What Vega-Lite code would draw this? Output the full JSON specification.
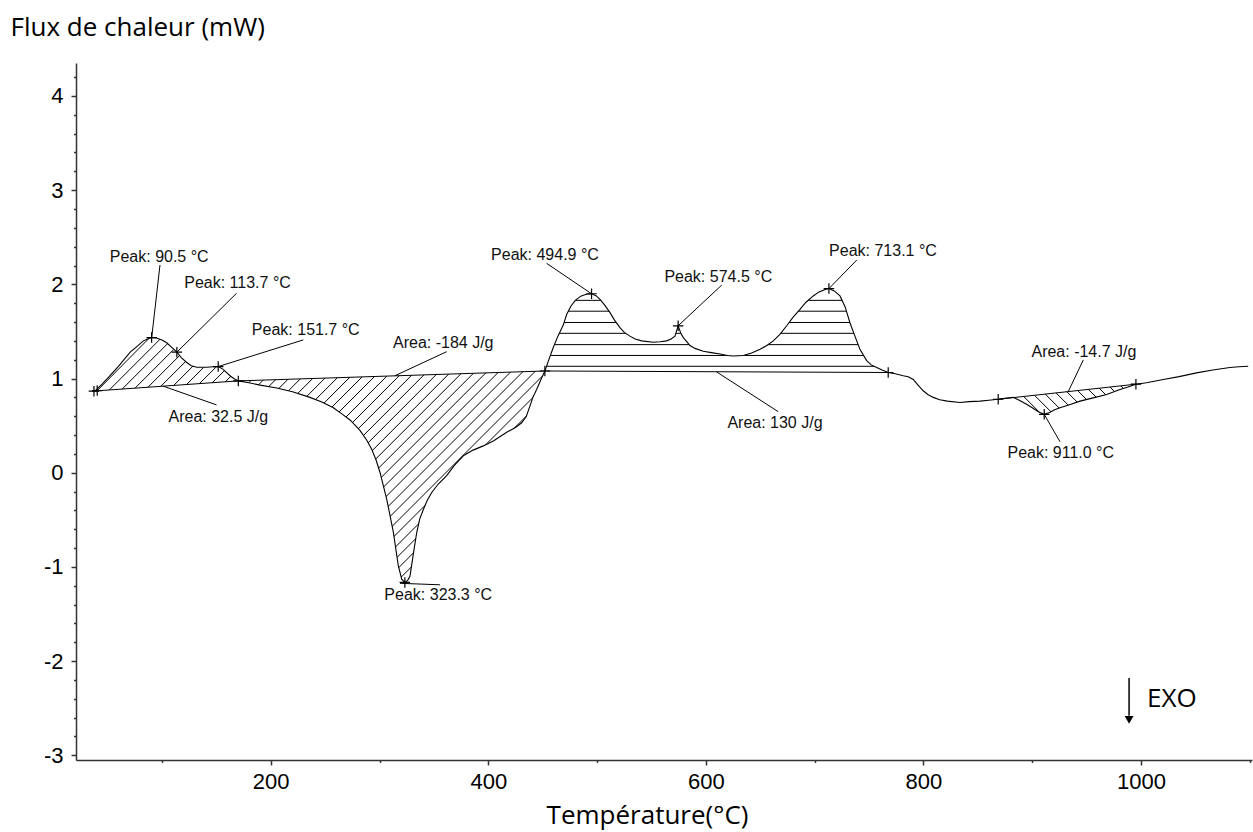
{
"$schema": "https://vega.github.io/schema/vega-lite/v6.json",
"width": 1176, "height": 697,
"autosize": "none",
"padding": {"left": 76, "top": 63, "right": 1, "bottom": 72},
"background": "white",
"config": {"view": {"stroke": null}},
"datasets": {
"curve": [
{"T":37,"v":0.865},{"T":38.5,"v":0.868},{"T":45,"v":0.94},{"T":52.3,"v":1.03},{"T":60,"v":1.13},{"T":70.8,"v":1.28},{"T":78,"v":1.35},{"T":82.9,"v":1.4},{"T":88,"v":1.425},{"T":90.5,"v":1.435},{"T":95,"v":1.43},{"T":100,"v":1.41},{"T":104.4,"v":1.38},{"T":109,"v":1.33},{"T":113.7,"v":1.28},{"T":118,"v":1.22},{"T":122.8,"v":1.17},{"T":127,"v":1.135},{"T":132,"v":1.12},{"T":141,"v":1.12},{"T":147,"v":1.125},{"T":151.7,"v":1.127},{"T":156,"v":1.1},{"T":162.6,"v":1.03},{"T":166,"v":1.0},{"T":170.2,"v":0.975},
{"T":180,"v":0.955},{"T":190.3,"v":0.93},{"T":205.5,"v":0.9},{"T":220,"v":0.86},{"T":236,"v":0.8},{"T":247,"v":0.75},{"T":257.6,"v":0.69},{"T":266,"v":0.62},{"T":272.9,"v":0.56},{"T":282,"v":0.45},{"T":288,"v":0.35},{"T":292.8,"v":0.25},{"T":297,"v":0.13},{"T":300.5,"v":0.0},{"T":306.6,"v":-0.28},{"T":312.7,"v":-0.63},{"T":317.3,"v":-0.99},{"T":320.4,"v":-1.13},{"T":323.3,"v":-1.165},{"T":326,"v":-1.14},{"T":328,"v":-1.1},{"T":331,"v":-0.87},{"T":334.2,"v":-0.635},{"T":337,"v":-0.49},{"T":340.3,"v":-0.39},{"T":344,"v":-0.29},{"T":348,"v":-0.21},{"T":354,"v":-0.12},{"T":361.7,"v":-0.03},{"T":369,"v":0.08},{"T":377,"v":0.18},{"T":386,"v":0.24},{"T":395.4,"v":0.285},{"T":405,"v":0.34},{"T":416.9,"v":0.43},{"T":425,"v":0.48},{"T":430.7,"v":0.53},{"T":435,"v":0.6},{"T":438.3,"v":0.71},{"T":441,"v":0.8},{"T":444.5,"v":0.886},{"T":448,"v":0.98},{"T":452,"v":1.08},
{"T":455,"v":1.18},{"T":459.7,"v":1.33},{"T":464,"v":1.45},{"T":469,"v":1.57},{"T":472,"v":1.68},{"T":476,"v":1.77},{"T":480,"v":1.83},{"T":485,"v":1.875},{"T":490,"v":1.895},{"T":494.9,"v":1.9},{"T":499,"v":1.88},{"T":502.7,"v":1.84},{"T":507,"v":1.78},{"T":511.9,"v":1.7},{"T":516,"v":1.62},{"T":521,"v":1.54},{"T":525,"v":1.49},{"T":530.2,"v":1.45},{"T":535,"v":1.42},{"T":541,"v":1.4},{"T":551.6,"v":1.385},{"T":558,"v":1.39},{"T":563.9,"v":1.4},{"T":568,"v":1.42},{"T":571.6,"v":1.45},{"T":574.5,"v":1.56},{"T":577,"v":1.48},{"T":579.3,"v":1.435},{"T":585.4,"v":1.35},{"T":590,"v":1.32},{"T":597.6,"v":1.29},{"T":605,"v":1.275},{"T":613,"v":1.26},{"T":620,"v":1.245},{"T":625,"v":1.24},{"T":634.4,"v":1.245},{"T":642,"v":1.27},{"T":649.8,"v":1.31},{"T":656,"v":1.35},{"T":662,"v":1.4},{"T":668,"v":1.47},{"T":674.3,"v":1.56},{"T":680,"v":1.65},{"T":686.5,"v":1.735},{"T":692,"v":1.81},{"T":698.7,"v":1.877},{"T":704,"v":1.92},{"T":709.6,"v":1.945},{"T":713.1,"v":1.955},{"T":718,"v":1.93},{"T":723.3,"v":1.877},{"T":728,"v":1.76},{"T":732.5,"v":1.59},{"T":737,"v":1.45},{"T":741.6,"v":1.31},{"T":747.8,"v":1.19},{"T":752,"v":1.145},{"T":757,"v":1.117},{"T":762,"v":1.09},{"T":767.6,"v":1.064},
{"T":774,"v":1.05},{"T":781.4,"v":1.03},{"T":786,"v":1.02},{"T":790.6,"v":0.99},{"T":795,"v":0.93},{"T":799.8,"v":0.87},{"T":804,"v":0.83},{"T":809,"v":0.8},{"T":815,"v":0.775},{"T":822,"v":0.76},{"T":833.6,"v":0.745},{"T":842,"v":0.755},{"T":852,"v":0.76},{"T":860,"v":0.77},{"T":868.7,"v":0.78},{"T":875,"v":0.79},{"T":882.5,"v":0.8},{"T":888,"v":0.77},{"T":894.8,"v":0.727},{"T":900,"v":0.69},{"T":906,"v":0.645},{"T":911,"v":0.62},{"T":916,"v":0.64},{"T":920,"v":0.665},{"T":925.5,"v":0.69},{"T":935,"v":0.725},{"T":943.9,"v":0.76},{"T":956,"v":0.795},{"T":968.4,"v":0.83},{"T":980,"v":0.88},{"T":988,"v":0.91},{"T":995.3,"v":0.94},{"T":1005,"v":0.955},{"T":1020.4,"v":0.99},{"T":1035,"v":1.02},{"T":1051,"v":1.06},{"T":1066,"v":1.09},{"T":1081.7,"v":1.117},{"T":1090,"v":1.125},{"T":1098.5,"v":1.13}
],
"base": [
{"r":"A","T":38.5,"v":0.868},{"r":"A","T":170.2,"v":0.975},
{"r":"B","T":170.2,"v":0.975},{"r":"B","T":452,"v":1.08},
{"r":"C","T":452,"v":1.08},{"r":"C","T":767.6,"v":1.064},
{"r":"D","T":868.7,"v":0.78},{"r":"D","T":995.3,"v":0.94}
],
"hatch": [
{"T":39.5,"v":0.86,"T2":90.1,"v2":1.45},{"T":50,"v":0.86,"T2":101.1,"v2":1.45},{"T":61,"v":0.86,"T2":112.1,"v2":1.45},{"T":72,"v":0.86,"T2":123.1,"v2":1.45},{"T":83,"v":0.86,"T2":134.1,"v2":1.45},{"T":94,"v":0.86,"T2":145.1,"v2":1.45},{"T":105,"v":0.86,"T2":156.1,"v2":1.45},{"T":116,"v":0.86,"T2":167.1,"v2":1.45},{"T":127,"v":0.86,"T2":169.4,"v2":1.348},{"T":138,"v":0.86,"T2":169.4,"v2":1.221},{"T":149,"v":0.86,"T2":169.4,"v2":1.093},{"T":160,"v":0.86,"T2":169.4,"v2":0.966},
{"T":171,"v":0.98,"T2":180.3,"v2":1.09},{"T":171,"v":0.853,"T2":191.3,"v2":1.09},{"T":171,"v":0.726,"T2":202.3,"v2":1.09},{"T":171,"v":0.599,"T2":213.3,"v2":1.09},{"T":171,"v":0.472,"T2":224.3,"v2":1.09},{"T":171,"v":0.345,"T2":235.3,"v2":1.09},{"T":171,"v":0.218,"T2":246.3,"v2":1.09},{"T":171,"v":0.091,"T2":257.3,"v2":1.09},{"T":171,"v":-0.036,"T2":268.3,"v2":1.09},{"T":171,"v":-0.163,"T2":279.3,"v2":1.09},{"T":171,"v":-0.29,"T2":290.3,"v2":1.09},{"T":171,"v":-0.417,"T2":301.3,"v2":1.09},{"T":171,"v":-0.544,"T2":312.3,"v2":1.09},{"T":171,"v":-0.671,"T2":323.3,"v2":1.09},{"T":171,"v":-0.798,"T2":334.3,"v2":1.09},{"T":171,"v":-0.925,"T2":345.3,"v2":1.09},{"T":171,"v":-1.052,"T2":356.3,"v2":1.09},{"T":171,"v":-1.179,"T2":367.3,"v2":1.09},{"T":180,"v":-1.2,"T2":378.3,"v2":1.09},{"T":191,"v":-1.2,"T2":389.3,"v2":1.09},{"T":202,"v":-1.2,"T2":400.3,"v2":1.09},{"T":213,"v":-1.2,"T2":411.3,"v2":1.09},{"T":224,"v":-1.2,"T2":422.3,"v2":1.09},{"T":235,"v":-1.2,"T2":433.3,"v2":1.09},{"T":246,"v":-1.2,"T2":444.3,"v2":1.09},{"T":257,"v":-1.2,"T2":451.2,"v2":1.043},{"T":268,"v":-1.2,"T2":451.2,"v2":0.916},{"T":279,"v":-1.2,"T2":451.2,"v2":0.789},{"T":290,"v":-1.2,"T2":451.2,"v2":0.662},{"T":301,"v":-1.2,"T2":451.2,"v2":0.535},{"T":312,"v":-1.2,"T2":451.2,"v2":0.408},{"T":323,"v":-1.2,"T2":451.2,"v2":0.281},
{"T":452.8,"v":1.13,"T2":766.8,"v2":1.13},{"T":452.8,"v":1.245,"T2":766.8,"v2":1.245},{"T":452.8,"v":1.36,"T2":766.8,"v2":1.36},{"T":452.8,"v":1.48,"T2":766.8,"v2":1.48},{"T":452.8,"v":1.595,"T2":766.8,"v2":1.595},{"T":452.8,"v":1.715,"T2":766.8,"v2":1.715},{"T":452.8,"v":1.83,"T2":766.8,"v2":1.83},
{"T":869.5,"v":0.817,"T2":887.4,"v2":0.61},{"T":870,"v":0.95,"T2":898.4,"v2":0.61},{"T":880,"v":0.95,"T2":909.4,"v2":0.61},{"T":891,"v":0.95,"T2":920.4,"v2":0.61},{"T":902,"v":0.95,"T2":931.4,"v2":0.61},{"T":913,"v":0.95,"T2":942.4,"v2":0.61},{"T":924,"v":0.95,"T2":953.4,"v2":0.61},{"T":935,"v":0.95,"T2":964.4,"v2":0.61},{"T":946,"v":0.95,"T2":975.4,"v2":0.61},{"T":957,"v":0.95,"T2":986.4,"v2":0.61},{"T":968,"v":0.95,"T2":994.5,"v2":0.644},{"T":979,"v":0.95,"T2":994.5,"v2":0.771},{"T":990,"v":0.95,"T2":994.5,"v2":0.898}
],
"leaders": [
{"T":90.5,"v":1.427,"T2":98.2,"v2":2.205},{"T":113.7,"v":1.28,"T2":168.6,"v2":1.905},{"T":151.7,"v":1.127,"T2":229.9,"v2":1.41},{"T":101.2,"v":0.919,"T2":150.2,"v2":0.72},{"T":314.2,"v":1.03,"T2":361.7,"v2":1.285},{"T":318.8,"v":-1.174,"T2":355.6,"v2":-1.19},{"T":453.6,"v":2.223,"T2":494.9,"v2":1.9},{"T":614.6,"v":1.993,"T2":574.5,"v2":1.56},{"T":738.7,"v":2.258,"T2":713.1,"v2":1.955},{"T":609.9,"v":1.07,"T2":666.5,"v2":0.648},{"T":933.1,"v":0.861,"T2":946.9,"v2":1.197},{"T":911,"v":0.62,"T2":925.5,"v2":0.329}
],
"markers": [
{"T":37.5,"v":0.866},{"T":40.5,"v":0.872},{"T":90.5,"v":1.435},{"T":113.7,"v":1.28},{"T":151.7,"v":1.127},{"T":170.2,"v":0.975},{"T":323.3,"v":-1.165},{"T":452,"v":1.08},{"T":494.9,"v":1.9},{"T":574.5,"v":1.56},{"T":713.1,"v":1.955},{"T":767.6,"v":1.064},{"T":868.7,"v":0.78},{"T":911,"v":0.62},{"T":995.3,"v":0.94}
],
"labels": [
{"label":"Peak: 90.5 °C","T":97.5,"v":2.29},{"label":"Peak: 113.7 °C","T":169.5,"v":2.01},{"label":"Peak: 151.7 °C","T":232.2,"v":1.515},{"label":"Area: 32.5 J/g","T":151.8,"v":0.595},{"label":"Area: -184 J/g","T":358.6,"v":1.374},{"label":"Peak: 323.3 °C","T":354,"v":-1.3},{"label":"Peak: 494.9 °C","T":452.1,"v":2.31},{"label":"Peak: 574.5 °C","T":611.4,"v":2.08},{"label":"Peak: 713.1 °C","T":762.8,"v":2.35},{"label":"Area: 130 J/g","T":663.5,"v":0.525},{"label":"Area: -14.7 J/g","T":947.5,"v":1.285},{"label":"Peak: 911.0 °C","T":926.2,"v":0.206}
],
"exo": [{"label":"EXO","T":1005.5,"v":-2.4}],
"arrow": [{"T":989,"v":-2.18,"v2":-2.58}],
"arrowhead": [{"T":989,"v":-2.625}]
},
"encoding": {
"x": {"field":"T","type":"quantitative","scale":{"domain":[21,1102],"nice":false,"zero":false},
 "axis":{"values":[100,200,300,400,500,600,700,800,900,1000,1100],
 "labelExpr":"datum.value % 200 === 0 ? '' + datum.value : ''",
 "tickSize":{"condition":{"test":"datum.value % 200 === 0","value":5},"value":2.5},
 "labelFont":"Liberation Sans","labelFontSize":22,"labelColor":"#000","labelPadding":6,"labelFlush":false,"labelOverlap":false,
 "domainColor":"#333","domainWidth":1.5,"tickColor":"#333","tickWidth":1.5,"grid":false,
 "title":"Température(°C)","titleFont":"Open Sans","titleFontSize":26,"titleFontWeight":"normal","titleColor":"#000",
 "titleX":571,"titleY":55,"titleAlign":"center","titleBaseline":"middle"}},
"y": {"field":"v","type":"quantitative","scale":{"domain":[-3.05,4.35],"nice":false,"zero":false},
 "axis":{"values":[-3,-2.8,-2.6,-2.4,-2.2,-2,-1.8,-1.6,-1.4,-1.2,-1,-0.8,-0.6,-0.4,-0.2,0,0.2,0.4,0.6,0.8,1,1.2,1.4,1.6,1.8,2,2.2,2.4,2.6,2.8,3,3.2,3.4,3.6,3.8,4,4.2],
 "labelExpr":"abs(datum.value - round(datum.value)) < 0.01 ? '' + round(datum.value) : ''",
 "tickSize":{"condition":{"test":"abs(datum.value - round(datum.value)) < 0.01","value":5},"value":2.5},
 "labelFont":"Liberation Sans","labelFontSize":22,"labelColor":"#000","labelPadding":8,"labelFlush":false,"labelOverlap":false,
 "domainColor":"#333","domainWidth":1.5,"tickColor":"#333","tickWidth":1.5,"grid":false,
 "title":"Flux de chaleur (mW)","titleFont":"Open Sans","titleFontSize":26,"titleFontWeight":"normal","titleColor":"#000",
 "titleAngle":0,"titleX":-66,"titleY":-28,"titleAlign":"left","titleBaseline":"alphabetic"}}
},
"layer": [
{"data":{"name":"hatch"},"mark":{"type":"rule","stroke":"#000","strokeWidth":1},"encoding":{"x2":{"field":"T2"},"y2":{"field":"v2"}}},
{"data":{"name":"curve"},"transform":[{"filter":"datum.T >= 38.5 && datum.T <= 170.2"}],"mark":{"type":"area","fill":"white","opacity":1,"interpolate":"linear"},"encoding":{"y2":{"datum":1.47}}},
{"data":{"name":"base"},"transform":[{"filter":"datum.r === 'A'"}],"mark":{"type":"area","fill":"white","opacity":1},"encoding":{"y2":{"datum":0.84}}},
{"data":{"name":"curve"},"transform":[{"filter":"datum.T >= 170.2 && datum.T <= 452"}],"mark":{"type":"area","fill":"white","opacity":1},"encoding":{"y2":{"datum":-1.25}}},
{"data":{"name":"base"},"transform":[{"filter":"datum.r === 'B'"}],"mark":{"type":"area","fill":"white","opacity":1},"encoding":{"y2":{"datum":1.12}}},
{"data":{"name":"curve"},"transform":[{"filter":"datum.T >= 452 && datum.T <= 767.6"}],"mark":{"type":"area","fill":"white","opacity":1},"encoding":{"y2":{"datum":1.97}}},
{"data":{"name":"base"},"transform":[{"filter":"datum.r === 'D'"}],"mark":{"type":"area","fill":"white","opacity":1},"encoding":{"y2":{"datum":0.97}}},
{"data":{"name":"curve"},"transform":[{"filter":"datum.T >= 868.7 && datum.T <= 995.3"}],"mark":{"type":"area","fill":"white","opacity":1},"encoding":{"y2":{"datum":0.59}}},
{"data":{"name":"base"},"mark":{"type":"line","stroke":"#000","strokeWidth":1},"encoding":{"detail":{"field":"r"}}},
{"data":{"name":"curve"},"mark":{"type":"line","stroke":"#000","strokeWidth":1.1}},
{"data":{"name":"leaders"},"mark":{"type":"rule","stroke":"#000","strokeWidth":1},"encoding":{"x2":{"field":"T2"},"y2":{"field":"v2"}}},
{"data":{"name":"markers"},"mark":{"type":"point","shape":"M-1,0H1M0,-1V1","filled":false,"stroke":"#000","strokeWidth":1.2,"size":110,"opacity":1}},
{"data":{"name":"labels"},"mark":{"type":"text","font":"Liberation Sans","fontSize":16,"fill":"#111","align":"center","baseline":"middle"},"encoding":{"text":{"field":"label"}}},
{"data":{"name":"exo"},"mark":{"type":"text","font":"Open Sans","fontSize":26,"fill":"#000","align":"left","baseline":"middle"},"encoding":{"text":{"field":"label"}}},
{"data":{"name":"arrow"},"mark":{"type":"rule","stroke":"#000","strokeWidth":1.5},"encoding":{"y2":{"field":"v2"}}},
{"data":{"name":"arrowhead"},"mark":{"type":"point","shape":"triangle-down","filled":true,"fill":"#000","size":80,"opacity":1}}
]
}
